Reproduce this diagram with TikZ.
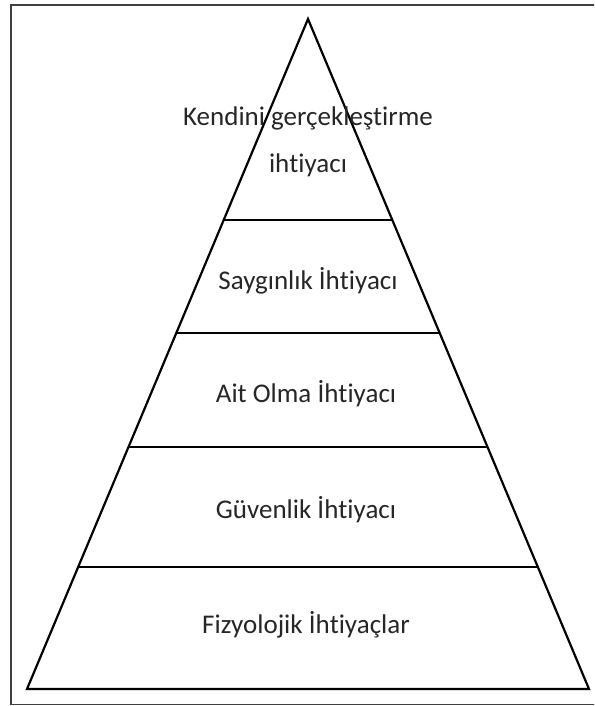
\documentclass[tikz,border=0pt]{standalone}
\usepackage{fontspec}
\setmainfont{Carlito}[Ligatures={NoCommon,NoRare,NoContextual}]
\begin{document}
\begin{tikzpicture}[x=1pt,y=-1pt,
  edge/.style={line width=2.2pt,line join=miter},
  lbl/.style={anchor=base,inner sep=0pt,font=\fontsize{27}{32}\selectfont,text=black!85}]
\useasboundingbox (0,0) rectangle (594,706);
\begin{scope}
\clip (0,0) rectangle (594,706);
\draw[line width=1.8pt,black!75] (11,4.7) rectangle (620,704.5);
\end{scope}
% pyramid corners
\coordinate (apex) at (308,19);
\coordinate (bl) at (27,689);
\coordinate (br) at (589,689);
\draw[edge] (bl) -- (apex) -- (br) -- cycle;
% band boundaries
\coordinate (l1) at (223.7,220); \coordinate (r1) at (392.3,220);
\coordinate (l2) at (176.3,333); \coordinate (r2) at (439.7,333);
\coordinate (l3) at (128.5,447); \coordinate (r3) at (487.5,447);
\coordinate (l4) at (78.2,567);  \coordinate (r4) at (537.8,567);
\draw[edge] (l1) -- (r1);
\draw[edge] (l2) -- (r2);
\draw[edge] (l3) -- (r3);
\draw[edge] (l4) -- (r4);
% labels
\node[lbl] (t1a) at (308,125) {Kendini gerçekleştirme};
\node[lbl] (t1b) at (308,172) {ih\kern0pt tiyacı};
\node[lbl] (t2) at (308,289) {Saygınlık İh\kern0pt tiyacı};
\node[lbl] (t3) at (306,402) {Ait Olma İh\kern0pt tiyacı};
\node[lbl] (t4) at (306,518) {Güvenlik İh\kern0pt tiyacı};
\node[lbl] (t5) at (306,633) {Fizyolojik İh\kern0pt tiyaçlar};
\end{tikzpicture}
\end{document}
